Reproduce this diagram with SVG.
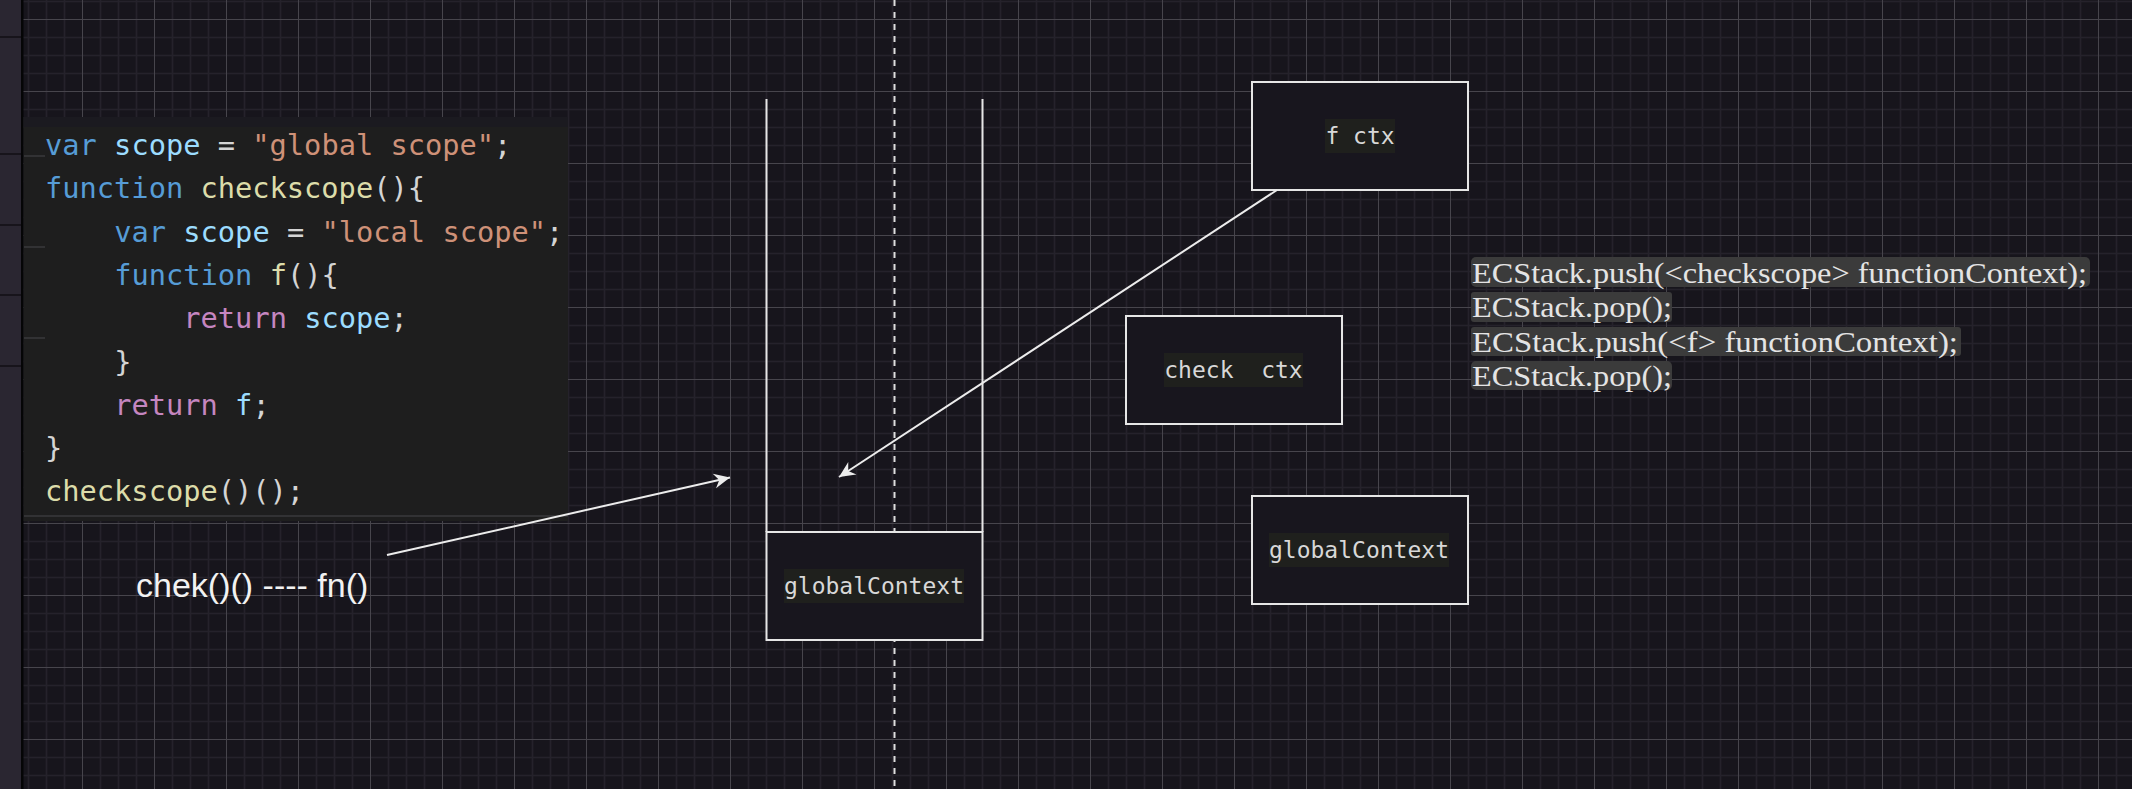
<svg xmlns="http://www.w3.org/2000/svg" width="2132" height="789" viewBox="0 0 2132 789">
<style>
.box{fill:#18161e;stroke:#e6e6e6;stroke-width:2}
.wall{stroke:#e6e6e6;stroke-width:2;fill:none}
.conn{stroke:#ececec;stroke-width:2;fill:none}
.nbg{fill:#1f201d}
.ntx{font-family:"DejaVu Sans Mono",monospace;font-size:23px;fill:#d8d8d8;text-anchor:middle}
.code{font-family:"DejaVu Sans Mono",monospace;font-size:28.7px;fill:#d4d4d4}
.kw{fill:#569cd6}.vr{fill:#9cdcfe}.st{fill:#ce9178}.fn{fill:#dcdcaa}.rt{fill:#c586c0}
.ecbg{fill:#3b3b3b}
.ec{font-family:"Liberation Serif",serif;font-size:29px;fill:#e4e4e4}
.lbl{font-family:"Liberation Sans",Arial,sans-serif;font-size:34px;fill:#f2f2f2}
</style>
<defs>
<pattern id="grid" x="10" y="19" width="72" height="72" patternUnits="userSpaceOnUse">
<rect width="72" height="72" fill="#17151c"/>
<path d="M18.5 0V72M36.5 0V72M54.5 0V72M0 18.5H72M0 36.5H72M0 54.5H72" stroke="#25222b" stroke-width="1.6"/>
<path d="M0.5 0V72M0 0.5H72" stroke="#47454c" stroke-width="1"/>
</pattern>
<marker id="arr" markerUnits="userSpaceOnUse" orient="auto" markerWidth="40" markerHeight="40" refX="0" refY="0" viewBox="-20 -20 40 40" overflow="visible">
<path d="M0,0 L-16,-7.5 L-11,0 L-16,7.5 Z" fill="#ececec"/>
</marker>
</defs>
<g id="background">
<rect x="0" y="0" width="2132" height="789" fill="url(#grid)"/>
<rect x="0" y="0" width="21" height="789" fill="#2a2631"/>
<path d="M0 37H21M0 154H21M0 225H21M0 295H21M0 366H21" stroke="#17141b" stroke-width="2"/>
<rect x="21" y="0" width="2.5" height="789" fill="#050506"/>
</g>
<g id="code-image">
<rect x="23.5" y="117" width="544.5" height="404" fill="#1e1e1e"/>
<rect x="23.5" y="117" width="544.5" height="10" fill="#1b1a20"/>
<path d="M24 156H45M24 247H45M24 338H45M24 516H568" stroke="#3a3a3c" stroke-width="1.5"/>
<text class="code" x="45" y="155"><tspan class="kw">var</tspan> <tspan class="vr">scope</tspan> = <tspan class="st">"global scope"</tspan>;</text>
<text class="code" x="45" y="198.3"><tspan class="kw">function</tspan> <tspan class="fn">checkscope</tspan>(){</text>
<text class="code" x="114.2" y="241.6"><tspan class="kw">var</tspan> <tspan class="vr">scope</tspan> = <tspan class="st">"local scope"</tspan>;</text>
<text class="code" x="114.2" y="284.9"><tspan class="kw">function</tspan> <tspan class="fn">f</tspan>(){</text>
<text class="code" x="183.3" y="328.2"><tspan class="rt">return</tspan> <tspan class="vr">scope</tspan>;</text>
<text class="code" x="114.2" y="371.5">}</text>
<text class="code" x="114.2" y="414.8"><tspan class="rt">return</tspan> <tspan class="vr">f</tspan>;</text>
<text class="code" x="45" y="458.1">}</text>
<text class="code" x="45" y="501.4"><tspan class="fn">checkscope</tspan>()();</text>
</g>
<g id="divider">
<line x1="894.5" y1="0" x2="894.5" y2="789" stroke="#dedede" stroke-width="2" stroke-dasharray="6 6"/>
</g>
<g id="stack">
<path class="wall" d="M766.5 99V532M982.5 99V532"/>
</g>
<g id="stack-globalContext">
<rect class="box" x="766.5" y="532" width="216" height="108"/>
<rect class="nbg" x="784" y="569" width="180" height="34"/>
<text class="ntx" x="874" y="594">globalContext</text>
</g>
<g id="f-ctx">
<rect class="box" x="1252" y="82" width="216" height="108"/>
<rect class="nbg" x="1325" y="119" width="70" height="34"/>
<text class="ntx" x="1360" y="144" xml:space="preserve">f ctx</text>
</g>
<g id="check-ctx">
<rect class="box" x="1126" y="316" width="216" height="108"/>
<rect class="nbg" x="1164" y="353" width="139" height="34"/>
<text class="ntx" x="1233.5" y="378" xml:space="preserve">check  ctx</text>
</g>
<g id="globalContext">
<rect class="box" x="1252" y="496" width="216" height="108"/>
<rect class="nbg" x="1269" y="533" width="180" height="34"/>
<text class="ntx" x="1359" y="558">globalContext</text>
</g>
<g id="ecstack-notes">
<rect class="ecbg" x="1471" y="257" width="619" height="30" rx="5"/>
<rect class="ecbg" x="1471" y="292" width="201" height="30" rx="3"/>
<rect class="ecbg" x="1471" y="327" width="490" height="29" rx="3"/>
<rect class="ecbg" x="1471" y="361" width="201" height="29" rx="5"/>
<text class="ec" x="1472" y="282.5" textLength="615" lengthAdjust="spacingAndGlyphs">ECStack.push(&lt;checkscope&gt; functionContext);</text>
<text class="ec" x="1472" y="317" textLength="200" lengthAdjust="spacingAndGlyphs">ECStack.pop();</text>
<text class="ec" x="1472" y="351.5" textLength="486" lengthAdjust="spacingAndGlyphs">ECStack.push(&lt;f&gt; functionContext);</text>
<text class="ec" x="1472" y="386" textLength="200" lengthAdjust="spacingAndGlyphs">ECStack.pop();</text>
</g>
<g id="connectors">
<path class="conn" d="M1277 190L839 477" marker-end="url(#arr)"/>
<path class="conn" d="M387 555L730 477.5" marker-end="url(#arr)"/>
</g>
<g id="label">
<text class="lbl" x="136" y="597">chek()() ---- fn()</text>
</g>
</svg>
